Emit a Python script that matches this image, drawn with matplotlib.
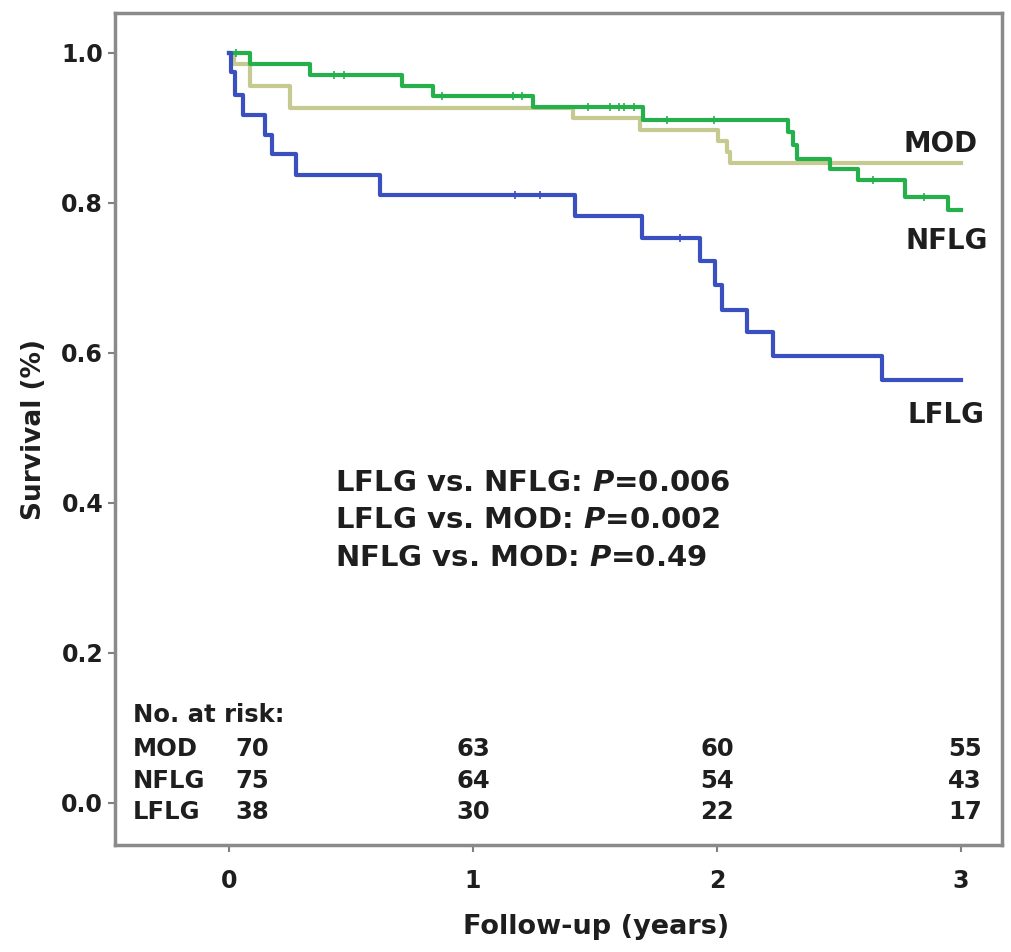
import matplotlib
matplotlib.use("Agg")
import matplotlib.pyplot as plt

plt.rcParams['font.family'] = ['DejaVu Sans']
plt.rcParams['font.weight'] = 'bold'
plt.rcParams['axes.labelweight'] = 'bold'
plt.rcParams['mathtext.fontset'] = 'custom'
plt.rcParams['mathtext.it'] = 'DejaVu Sans:italic:bold'
plt.rcParams['mathtext.rm'] = 'DejaVu Sans:bold'

# Kaplan-Meier steps (years, survival)
mod_t = [0, 0.02, 0.086, 0.25, 1.41, 1.684, 2.004, 2.04, 2.055, 3.0]
mod_s = [1.0, 0.985, 0.956, 0.926, 0.913, 0.897, 0.882, 0.868, 0.853, 0.853]

nflg_t = [0, 0.086, 0.332, 0.709, 0.836, 1.247, 1.697, 2.29, 2.31, 2.33, 2.463, 2.578, 2.771, 2.947, 3.0]
nflg_s = [1.0, 0.985, 0.971, 0.956, 0.942, 0.928, 0.911, 0.895, 0.877, 0.859, 0.845, 0.830, 0.808, 0.790, 0.790]

lflg_t = [0, 0.01, 0.025, 0.058, 0.148, 0.175, 0.277, 0.619, 1.418, 1.692, 1.93, 1.992, 2.02, 2.123, 2.23, 2.676, 3.0]
lflg_s = [1.0, 0.974, 0.944, 0.917, 0.891, 0.865, 0.837, 0.811, 0.782, 0.753, 0.722, 0.691, 0.657, 0.628, 0.596, 0.564, 0.564]

# censored observations
nflg_cens_t = [0.03, 0.43, 0.47, 0.873, 1.164, 1.20, 1.47, 1.56, 1.60, 1.62, 1.66, 1.795, 1.99, 2.64, 2.85]
nflg_cens_s = [1.0, 0.971, 0.971, 0.942, 0.942, 0.942, 0.928, 0.928, 0.928, 0.928, 0.928, 0.911, 0.911, 0.830, 0.808]
lflg_cens_t = [1.172, 1.275, 1.85]
lflg_cens_s = [0.811, 0.811, 0.753]

groups = ['MOD', 'NFLG', 'LFLG']
risk_times = [0, 1, 2, 3]
at_risk = {'MOD': [70, 63, 60, 55], 'NFLG': [75, 64, 54, 43], 'LFLG': [38, 30, 22, 17]}
p_lines = [r'LFLG vs. NFLG: $P$=0.006', r'LFLG vs. MOD: $P$=0.002', r'NFLG vs. MOD: $P$=0.49']

c_mod = '#c6ca90'
c_nflg = '#25b04c'
c_lflg = '#3a4fc0'
txt = '#1e1e1e'

fig = plt.figure(figsize=(10.11, 9.52), dpi=100)
ax = fig.add_axes([0.1137, 0.1124, 0.8773, 0.8739])

ax.step(mod_t, mod_s, where='post', color=c_mod, lw=3)
ax.step(nflg_t, nflg_s, where='post', color=c_nflg, lw=3)
ax.step(lflg_t, lflg_s, where='post', color=c_lflg, lw=3)
ax.plot(nflg_cens_t, nflg_cens_s, ls='none', marker='|', ms=6, mew=1.2, color=c_nflg)
ax.plot(lflg_cens_t, lflg_cens_s, ls='none', marker='|', ms=6, mew=1.2, color=c_lflg)

ax.set_xlim(-0.467, 3.168)
ax.set_ylim(-0.056, 1.053)
ax.set_xticks([0, 1, 2, 3])
ax.set_yticks([0, 0.2, 0.4, 0.6, 0.8, 1.0])
ax.set_yticklabels(['0.0', '0.2', '0.4', '0.6', '0.8', '1.0'])
ax.tick_params(colors='#808080', labelcolor=txt, labelsize=17, length=5, width=1.5)
ax.tick_params(axis='x', pad=12)
for sp in ax.spines.values():
    sp.set_color('#8a8a8a')
    sp.set_linewidth(2.5)

ax.set_xlabel('Follow-up (years)', fontsize=19.5, color=txt)
ax.xaxis.set_label_coords(0.543, -0.083)
ax.set_ylabel('Survival (%)', fontsize=19, color=txt, labelpad=10)

# curve labels
ax.text(2.915, 0.879, 'MOD', fontsize=20, color=txt, ha='center', va='center')
ax.text(2.94, 0.749, 'NFLG', fontsize=20, color=txt, ha='center', va='center')
ax.text(2.94, 0.517, 'LFLG', fontsize=20, color=txt, ha='center', va='center')

# p values
for i, line in enumerate(p_lines):
    ax.text(0.435, 0.427 - i * 0.05, line, fontsize=21, color=txt, ha='left', va='center')

# numbers at risk
ax.text(-0.395, 0.117, 'No. at risk:', fontsize=17.5, color=txt, ha='left', va='center')
row_y = [0.072, 0.029, -0.012]
for g, y in zip(groups, row_y):
    ax.text(-0.395, y, g, fontsize=17.5, color=txt, ha='left', va='center')
    for j, (t, n) in enumerate(zip(risk_times, at_risk[g])):
        xpos = 0.094 if j == 0 else (t + 0.016 if j == 3 else t)
        ax.text(xpos, y, str(n), fontsize=17.5, color=txt, ha='center', va='center')

fig.savefig('out.png', dpi=100)
